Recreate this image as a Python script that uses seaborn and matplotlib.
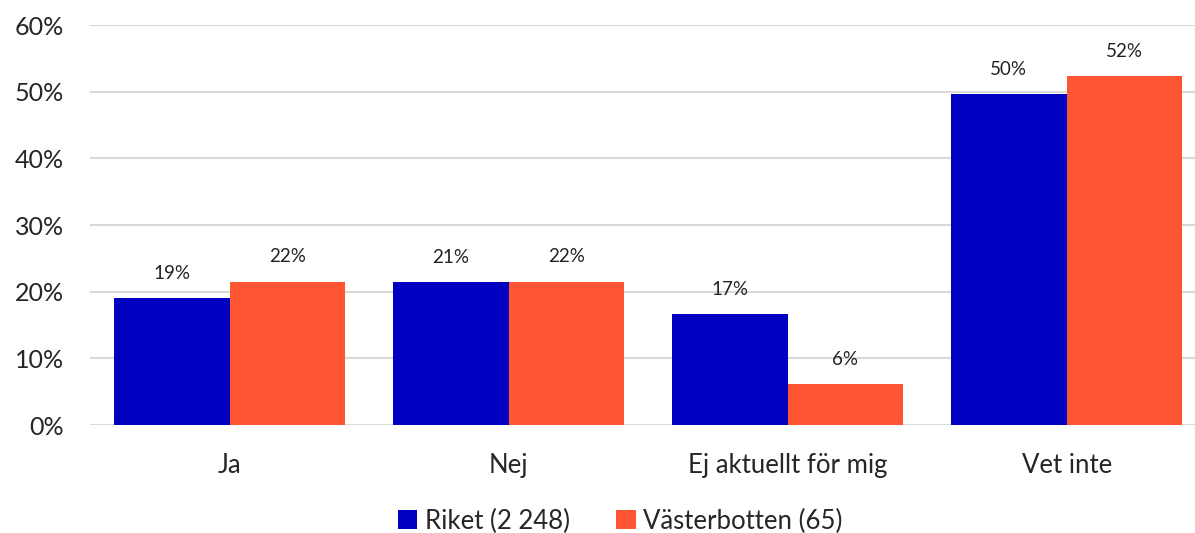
import matplotlib
matplotlib.use("Agg")
import matplotlib.pyplot as plt
import seaborn as sns
import pandas as pd

# Svarsfördelning, andel i procent
categories = ["Ja", "Nej", "Ej aktuellt för mig", "Vet inte"]
riket = [19.0, 21.4, 16.6, 49.6]
vasterbotten = [21.5, 21.5, 6.1, 52.3]
series = ["Riket (2 248)", "Västerbotten (65)"]
colors = ["#0000C0", "#FF5533"]

df = pd.DataFrame({
    "kategori": categories * 2,
    "andel": riket + vasterbotten,
    "grupp": [series[0]] * 4 + [series[1]] * 4,
})

sns.set_style("white")
plt.rcParams["font.family"] = ["Lato", "DejaVu Sans"]

fig = plt.figure(figsize=(11.95, 5.33), dpi=100)
ax = fig.add_axes([0.0753, 0.2026, 0.9247, 0.7504])

sns.barplot(data=df, x="kategori", y="andel", hue="grupp", palette=colors,
            width=0.83, saturation=1, ax=ax, linewidth=0)

for cont in ax.containers:
    ax.bar_label(cont, labels=[f"{v:.0f}%" for v in cont.datavalues],
                 padding=12, fontsize=13.5, color="#222222")

ax.set_ylim(0, 60)
ax.set_xlim(-0.5, 3.46)
ax.set_yticks(range(0, 61, 10))
ax.set_yticklabels([f"{t}%" for t in range(0, 61, 10)], fontsize=18)
ax.tick_params(axis="x", labelsize=18.5, pad=20, length=0)
ax.tick_params(axis="y", length=0, pad=19)
ax.set_xlabel("")
ax.set_ylabel("")
ax.yaxis.grid(True, color="#d9d9d9", linewidth=1.5)
ax.set_axisbelow(True)
for s in ax.spines.values():
    s.set_visible(False)

ax.legend(loc="center", bbox_to_anchor=(0.48, -0.24), ncol=2, frameon=False,
          fontsize=18.5, handlelength=0.75, handleheight=0.75, handletextpad=0.3,
          columnspacing=1.8)

plt.savefig("out.png", dpi=100)
